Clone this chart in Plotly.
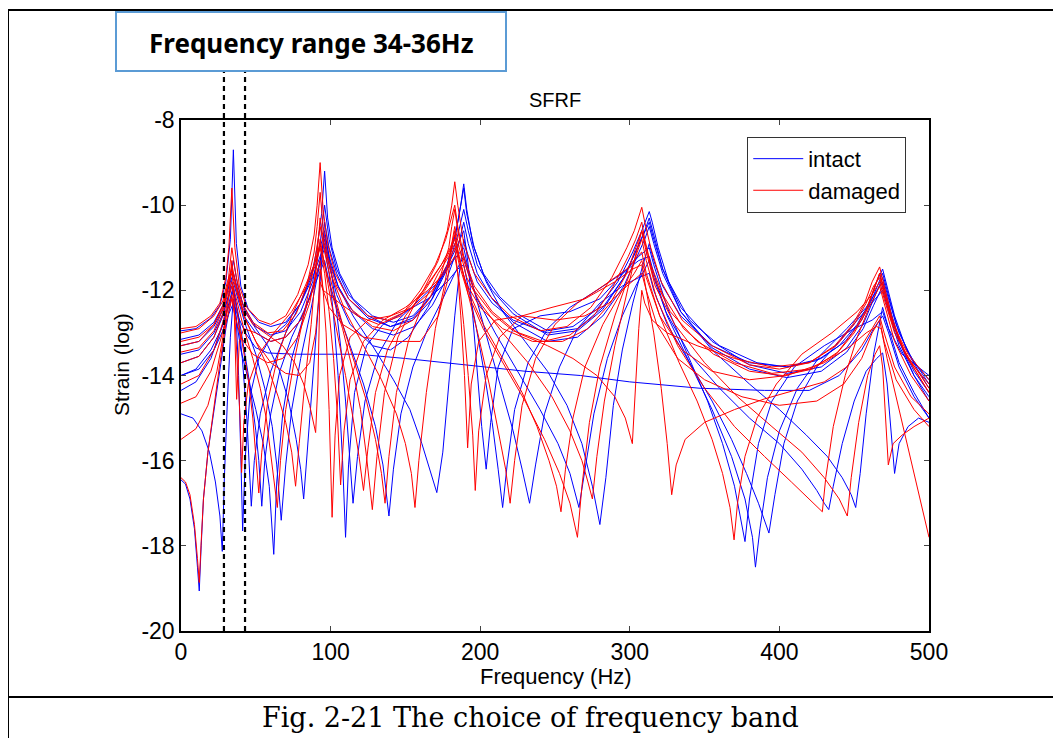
import plotly.graph_objects as go

# strain FRF curves, (frequency Hz, log strain)
intact_1 = [(0, -12.95), (10, -12.9), (20, -12.65), (26, -12.35), (30, -11.8), (33, -10.8), (35, -8.7), (37, -10.9),
            (40, -11.9), (45, -12.45), (52, -12.75), (60, -12.85), (70, -12.75), (80, -12.3), (87, -11.7), (91, -11.0),
            (94, -10.2), (96, -9.2), (98, -10.3), (101, -11.0), (106, -11.6), (115, -12.2), (128, -12.6), (142, -12.75),
            (155, -12.6), (168, -12.1), (178, -11.4), (184, -10.6), (187, -10.0), (189, -9.5), (191, -10.1), (195, -10.9),
            (202, -11.6), (213, -12.15), (225, -12.55), (245, -12.95), (262, -12.85), (278, -12.45), (292, -11.8),
            (302, -11.1), (308, -10.6), (311, -10.3), (313, -10.15), (315, -10.4), (319, -11.0), (326, -11.8),
            (340, -12.7), (360, -13.3), (385, -13.7), (405, -13.8), (425, -13.65), (440, -13.3), (452, -12.8),
            (460, -12.3), (465, -11.8), (469, -11.5), (472, -11.9), (477, -12.6), (485, -13.4), (500, -14.2)]
intact_2 = [(0, -13.15), (12, -13.05), (22, -12.75), (28, -12.35), (32, -11.9), (35, -11.6), (38, -12.0), (43, -12.5),
            (50, -12.9), (58, -13.3), (66, -13.9), (72, -14.6), (77, -15.5), (80, -16.2), (82, -16.9), (84, -16.0),
            (87, -14.6), (90, -13.2), (93, -11.9), (96, -10.4), (99, -11.0), (104, -11.6), (112, -12.2), (125, -12.65),
            (140, -12.85), (155, -12.65), (168, -12.1), (178, -11.4), (184, -10.6), (187, -10.0), (189, -9.6),
            (191, -10.2), (196, -11.0), (204, -11.8), (215, -12.5), (230, -13.2), (245, -13.9), (258, -14.7),
            (268, -15.6), (275, -16.6), (280, -17.5), (284, -16.4), (289, -14.7), (295, -13.4), (302, -12.3),
            (308, -11.5), (313, -10.9), (316, -11.3), (322, -11.9), (334, -12.6), (355, -13.3), (380, -13.7),
            (405, -13.8), (428, -13.6), (444, -13.2), (455, -12.7), (462, -12.2), (469, -11.6), (472, -12.0),
            (478, -12.8), (488, -13.6), (500, -14.3)]
intact_3 = [(0, -13.5), (12, -13.4), (22, -13.0), (28, -12.55), (32, -12.1), (35, -11.8), (38, -12.2), (43, -12.8),
            (50, -13.5), (56, -14.3), (61, -15.2), (64, -16.1), (67, -17.4), (70, -16.1), (74, -14.8), (80, -13.6),
            (86, -12.6), (91, -11.7), (96, -10.8), (99, -11.3), (105, -11.9), (115, -12.6), (128, -13.3), (142, -14.1),
            (153, -14.8), (161, -15.6), (167, -16.3), (171, -16.75), (175, -15.8), (179, -14.2), (183, -12.6),
            (186, -11.6), (189, -10.8), (192, -11.2), (198, -11.8), (208, -12.3), (222, -12.7), (245, -13.0),
            (265, -12.9), (282, -12.4), (296, -11.7), (305, -11.0), (310, -10.6), (313, -10.3), (316, -10.7),
            (322, -11.5), (334, -12.5), (355, -13.4), (380, -14.2), (400, -14.8), (418, -15.4), (432, -15.9),
            (442, -16.4), (448, -16.8), (451, -17.1), (454, -16.3), (458, -14.9), (463, -13.5), (469, -12.4),
            (473, -12.9), (480, -13.7), (490, -14.4), (500, -15.0)]
intact_4 = [(0, -14.0), (10, -13.85), (20, -13.4), (27, -12.9), (32, -12.35), (35, -12.0), (38, -12.5), (42, -13.3),
            (46, -14.2), (50, -15.3), (52, -16.0), (54, -17.07), (56, -16.0), (60, -14.9), (66, -13.9), (74, -13.1),
            (82, -12.5), (89, -11.9), (96, -11.3), (99, -11.8), (105, -12.5), (113, -13.3), (122, -14.2), (130, -15.2),
            (135, -16.1), (139, -17.3), (142, -16.2), (147, -14.9), (155, -13.8), (165, -12.9), (175, -12.2),
            (183, -11.6), (189, -11.2), (192, -11.6), (198, -12.2), (210, -13.0), (225, -13.9), (240, -14.8),
            (252, -15.6), (260, -16.3), (266, -17.1), (270, -16.2), (276, -14.9), (285, -13.6), (295, -12.6),
            (304, -11.9), (313, -11.3), (316, -11.7), (324, -12.5), (340, -13.5), (360, -14.3), (380, -15.0),
            (400, -15.6), (415, -16.2), (425, -16.7), (430, -17.0), (433, -17.15), (436, -16.6), (442, -15.6),
            (450, -14.6), (458, -13.9), (465, -13.6), (469, -13.47), (472, -14.2), (475, -15.4), (477, -16.3),
            (480, -15.6), (486, -15.2), (493, -15.0), (500, -15.1)]
intact_5 = [(0, -14.35), (10, -14.15), (20, -13.6), (27, -12.9), (32, -12.3), (35, -11.9), (38, -12.6), (41, -13.6),
            (44, -15.0), (46, -16.2), (47, -17.07), (49, -16.0), (53, -14.9), (60, -13.9), (70, -13.0), (80, -12.3),
            (88, -11.5), (93, -11.0), (96, -10.6), (99, -11.2), (103, -12.2), (107, -13.4), (110, -14.6), (113, -16.0),
            (115, -17.0), (118, -15.9), (123, -14.6), (132, -13.5), (145, -12.7), (160, -12.2), (172, -11.8),
            (182, -11.3), (189, -11.0), (192, -11.5), (198, -12.3), (206, -13.3), (214, -14.3), (222, -15.3),
            (228, -16.2), (233, -17.0), (237, -16.1), (243, -14.9), (253, -13.8), (265, -12.9), (280, -12.3),
            (295, -11.9), (306, -11.7), (313, -11.6), (316, -12.0), (325, -12.8), (340, -13.7), (355, -14.6),
            (368, -15.5), (378, -16.3), (386, -17.0), (393, -17.7), (397, -16.8), (403, -15.6), (412, -14.6),
            (425, -13.8), (440, -13.2), (452, -12.7), (462, -12.3), (469, -12.0), (473, -12.5), (480, -13.3),
            (490, -14.0), (500, -14.5)]
intact_6 = [(0, -14.9), (8, -15.0), (14, -15.3), (19, -15.8), (23, -16.5), (26, -17.3), (27.6, -18.13), (29, -16.4),
            (31, -14.6), (33, -13.1), (35, -12.2), (37, -12.7), (40, -13.4), (45, -14.1), (50, -14.8), (55, -15.6),
            (59, -16.6), (62, -18.2), (64, -16.5), (68, -14.9), (74, -13.6), (82, -12.6), (90, -11.7), (96, -11.0),
            (99, -11.6), (102, -12.6), (105, -14.0), (108, -16.0), (110, -17.8), (112, -16.1), (116, -14.4),
            (124, -13.3), (135, -12.8), (150, -12.5), (165, -12.2), (178, -11.8), (185, -11.5), (189, -11.4),
            (192, -11.9), (197, -12.8), (203, -14.0), (208, -15.1), (212, -16.2), (215, -17.1), (218, -16.1),
            (223, -14.8), (232, -13.7), (245, -12.9), (260, -12.4), (278, -12.0), (295, -11.6), (306, -11.3),
            (313, -11.2), (316, -11.6), (325, -12.6), (340, -13.7), (355, -14.8), (368, -15.9), (377, -16.9),
            (382, -17.8), (384, -18.5), (387, -17.6), (392, -16.4), (400, -15.3), (412, -14.3), (428, -13.5),
            (445, -12.9), (458, -12.4), (469, -11.8), (473, -12.3), (480, -13.2), (490, -14.0), (500, -14.6)]
intact_7 = [(0, -16.45), (3, -16.55), (6, -16.9), (9, -17.6), (11, -18.5), (12.2, -19.06), (13.5, -18.0), (15, -16.9),
            (18, -15.8), (22, -14.8), (26, -13.8), (30, -12.9), (33, -12.3), (35, -11.9), (37, -12.7), (38.5, -14.0),
            (40, -15.9), (41.2, -17.65), (43, -15.9), (46, -14.5), (52, -13.6), (60, -13.1), (70, -12.8), (80, -12.3),
            (88, -11.7), (93, -11.2), (96, -10.9), (99, -11.4), (104, -12.1), (113, -12.8), (128, -13.3), (140, -13.4),
            (152, -13.1), (165, -12.4), (176, -11.6), (184, -11.0), (189, -10.6), (192, -11.4), (195, -12.6),
            (198, -14.0), (201, -15.2), (204, -16.2), (207, -15.1), (212, -13.8), (222, -12.9), (240, -12.6),
            (260, -12.5), (280, -12.2), (296, -11.6), (306, -11.2), (313, -11.0), (316, -11.4), (325, -12.4),
            (340, -13.6), (352, -14.6), (362, -15.6), (370, -16.6), (377, -17.9), (380, -16.9), (386, -15.6),
            (395, -14.6), (410, -13.8), (430, -13.3), (450, -12.9), (462, -12.7), (469, -12.5), (473, -12.9),
            (482, -13.5), (500, -14.0)]
intact_8 = [(0, -14.0), (12, -13.85), (22, -13.4), (28, -12.95), (32, -12.55), (35, -12.3), (38, -12.6), (43, -13.0),
            (50, -13.35), (58, -13.47), (75, -13.5), (95, -13.5), (118, -13.5), (150, -13.6), (190, -13.75),
            (230, -13.9), (267, -14.0), (300, -14.15), (347, -14.3), (390, -14.35), (420, -14.35), (440, -14.0),
            (455, -13.4), (463, -12.9), (469, -12.6), (473, -13.0), (480, -13.8), (490, -14.5), (500, -15.0)]
intact_9 = [(0, -13.3), (12, -13.2), (22, -12.85), (28, -12.45), (32, -11.9), (35, -11.3), (38, -11.9), (42, -12.4),
            (50, -12.85), (60, -13.05), (70, -12.95), (80, -12.5), (88, -11.8), (93, -10.9), (96, -10.0), (99, -10.8),
            (104, -11.5), (112, -12.1), (125, -12.6), (140, -12.85), (155, -12.7), (168, -12.2), (178, -11.5),
            (185, -10.7), (189, -10.1), (192, -10.6), (198, -11.4), (208, -12.0), (222, -12.55), (245, -13.05),
            (265, -12.95), (282, -12.45), (296, -11.7), (305, -11.0), (310, -10.6), (313, -10.4), (316, -10.8),
            (322, -11.5), (334, -12.4), (355, -13.2), (380, -13.75), (405, -13.95), (428, -13.8), (445, -13.35),
            (456, -12.8), (463, -12.2), (469, -11.7), (473, -12.2), (480, -13.0), (490, -13.7), (500, -14.1)]
intact_10 = [(0, -13.7), (12, -13.55), (22, -13.1), (28, -12.6), (32, -12.1), (35, -11.6), (38, -12.1), (43, -12.65),
             (50, -13.0), (60, -13.2), (70, -13.1), (80, -12.7), (88, -12.0), (93, -11.3), (96, -10.7), (99, -11.2),
             (105, -11.9), (115, -12.5), (128, -12.9), (142, -13.05), (156, -12.85), (168, -12.35), (178, -11.7),
             (185, -11.0), (189, -10.4), (192, -10.9), (198, -11.6), (208, -12.2), (222, -12.75), (245, -13.2),
             (265, -13.1), (282, -12.6), (296, -11.9), (305, -11.2), (310, -10.8), (313, -10.5), (316, -10.9),
             (322, -11.6), (334, -12.5), (355, -13.35), (380, -13.85), (405, -14.05), (428, -13.9), (445, -13.45),
             (456, -12.9), (463, -12.35), (469, -11.9), (473, -12.4), (480, -13.2), (490, -13.9), (500, -14.4)]

damaged_1 = [(0, -12.9), (10, -12.85), (20, -12.6), (26, -12.3), (30, -11.7), (32, -11.0), (34, -9.6), (36, -11.0),
             (39, -11.9), (44, -12.4), (52, -12.7), (60, -12.8), (70, -12.6), (78, -12.1), (85, -11.4), (89, -10.7),
             (91, -10.0), (93, -9.0), (95, -10.1), (98, -10.9), (103, -11.6), (112, -12.2), (125, -12.6), (138, -12.7),
             (150, -12.5), (162, -12.0), (172, -11.3), (178, -10.6), (181, -10.0), (183, -9.45), (185, -10.0),
             (189, -10.9), (196, -11.6), (207, -12.15), (220, -12.6), (240, -12.95), (258, -12.85), (274, -12.4),
             (288, -11.7), (298, -11.0), (303, -10.6), (306, -10.3), (308, -10.05), (310, -10.4), (314, -11.0),
             (321, -11.8), (335, -12.7), (355, -13.3), (380, -13.75), (400, -13.85), (420, -13.7), (437, -13.3),
             (449, -12.8), (457, -12.3), (462, -11.8), (467, -11.45), (470, -11.9), (475, -12.6), (483, -13.4),
             (500, -14.3)]
damaged_2 = [(0, -13.0), (12, -12.9), (22, -12.6), (28, -12.25), (31, -11.8), (34, -11.5), (37, -11.9), (41, -12.4),
             (48, -12.8), (58, -13.05), (68, -13.3), (76, -13.7), (82, -14.2), (86, -14.7), (90, -15.34), (91.5, -14.2),
             (93, -11.8), (95, -12.0), (99, -12.1), (106, -12.3), (118, -12.6), (132, -12.8), (147, -12.6),
             (160, -12.0), (170, -11.4), (177, -10.8), (181, -10.3), (183, -10.0), (185, -10.5), (189, -11.2),
             (196, -11.9), (208, -12.5), (225, -13.0), (245, -13.3), (262, -13.6), (278, -14.0), (290, -14.5),
             (297, -15.0), (301.7, -15.6), (304, -14.2), (306, -12.9), (308, -12.0), (310, -12.3), (315, -12.7),
             (325, -13.0), (345, -13.3), (370, -13.6), (395, -13.8), (420, -13.7), (438, -13.3), (450, -12.8),
             (458, -12.3), (463, -11.9), (467, -11.7), (470, -12.1), (476, -12.8), (486, -13.5), (500, -14.1)]
damaged_3 = [(0, -13.2), (12, -13.1), (22, -12.8), (28, -12.35), (31, -11.9), (34, -11.6), (37, -12.0), (42, -12.6),
             (50, -13.2), (58, -13.8), (65, -14.5), (70, -15.1), (74, -15.8), (76.6, -16.6), (79, -15.6), (83, -14.1),
             (87, -12.8), (90, -11.6), (93, -10.3), (96, -11.0), (101, -11.7), (110, -12.5), (122, -13.3), (134, -14.1),
             (144, -14.9), (150, -15.6), (154, -16.3), (156.4, -17.1), (159, -16.0), (164, -14.4), (170, -12.9),
             (176, -11.9), (180, -11.1), (183, -10.5), (186, -11.0), (191, -11.7), (200, -12.3), (215, -13.0),
             (232, -13.7), (248, -14.5), (260, -15.3), (268, -16.0), (272, -16.5), (275, -16.9), (278, -15.9),
             (283, -14.6), (290, -13.3), (297, -12.2), (303, -11.3), (308, -10.6), (311, -11.1), (317, -11.9),
             (330, -12.8), (350, -13.7), (372, -14.5), (395, -15.2), (415, -15.8), (430, -16.4), (440, -16.9),
             (445.4, -17.3), (448, -16.4), (453, -15.1), (459, -14.0), (464, -13.5), (467, -13.3), (469, -13.8),
             (471, -15.0), (472.8, -16.1), (476, -15.6), (482, -15.4), (490, -15.2), (500, -15.0)]
damaged_4 = [(0, -13.7), (12, -13.55), (22, -13.1), (28, -12.55), (31, -12.1), (34, -11.8), (37, -12.2), (42, -12.9),
             (48, -13.6), (53, -14.3), (57, -15.0), (60, -15.8), (62, -16.4), (64.4, -17.1), (66.5, -16.0), (70, -14.8),
             (76, -13.6), (82, -12.6), (88, -11.6), (93, -10.5), (96, -11.1), (101, -11.9), (108, -12.8), (116, -13.7),
             (124, -14.6), (130, -15.5), (134, -16.3), (136.4, -17.0), (139, -15.9), (144, -14.4), (152, -13.2),
             (162, -12.3), (172, -11.6), (179, -11.2), (183, -10.9), (186, -11.4), (192, -12.1), (202, -12.9),
             (215, -13.7), (230, -14.6), (243, -15.5), (253, -16.3), (260, -17.0), (265, -17.8), (268, -16.6),
             (273, -15.1), (280, -13.8), (290, -12.6), (300, -11.6), (305, -11.1), (308, -10.8), (311, -11.3),
             (318, -12.2), (332, -13.3), (350, -14.3), (370, -15.2), (390, -15.9), (408, -16.5), (420, -16.9),
             (428.7, -17.2), (431, -16.4), (436, -15.2), (444, -14.0), (452, -13.1), (460, -12.4), (467, -11.9),
             (470, -12.3), (477, -13.2), (488, -14.0), (500, -14.6)]
damaged_5 = [(0, -14.2), (12, -14.0), (22, -13.4), (28, -12.75), (31, -12.3), (34, -11.9), (37, -12.4), (41, -13.2),
             (45, -14.1), (48, -15.0), (50, -15.8), (52, -16.76), (54, -15.8), (58, -14.6), (65, -13.5), (74, -12.6),
             (83, -11.9), (89, -11.4), (93, -10.9), (96, -11.4), (100, -12.2), (105, -13.1), (110, -14.0),
             (115, -15.0), (119, -15.9), (122, -16.7), (125, -15.7), (130, -14.4), (138, -13.4), (150, -12.6),
             (163, -12.0), (174, -11.4), (180, -11.0), (183, -10.7), (186, -11.2), (192, -12.1), (199, -13.1),
             (206, -14.2), (212, -15.3), (217, -16.2), (220, -17.0), (223, -16.0), (228, -14.7), (237, -13.6),
             (250, -12.8), (265, -12.3), (282, -11.9), (298, -11.5), (305, -11.2), (308, -11.1), (311, -11.6),
             (320, -12.6), (333, -13.7), (345, -14.6), (355, -15.5), (362, -16.3), (367, -17.1), (369.7, -17.86),
             (372, -17.0), (377, -15.9), (385, -15.0), (398, -14.2), (415, -13.5), (435, -13.0), (452, -12.5),
             (462, -12.1), (467, -11.8), (470, -12.2), (477, -13.0), (488, -13.7), (500, -14.2)]
damaged_6 = [(0, -14.65), (10, -14.5), (20, -13.9), (27, -13.1), (31, -12.5), (34, -12.1), (36, -12.6), (38, -13.8),
             (39.5, -15.0), (40.5, -16.28), (42, -15.1), (45, -14.2), (52, -13.5), (62, -13.0), (74, -12.5),
             (84, -11.9), (90, -11.4), (93, -11.0), (96, -11.6), (99, -12.5), (102, -13.6), (104.5, -14.9),
             (106.7, -16.57), (109, -15.3), (113, -14.1), (122, -13.2), (135, -12.7), (150, -12.4), (165, -12.0),
             (176, -11.6), (183, -11.2), (186, -11.8), (189, -12.8), (192, -14.0), (195, -15.4), (196.7, -16.7),
             (199, -15.3), (204, -14.0), (213, -13.1), (228, -12.6), (248, -12.4), (270, -12.2), (290, -11.8),
             (302, -11.5), (308, -11.4), (311, -12.0), (316, -13.0), (321, -14.3), (325, -15.6), (328, -16.8),
             (331, -16.1), (337, -15.5), (350, -15.1), (370, -14.8), (390, -14.55), (410, -14.35), (430, -14.15),
             (445, -13.8), (455, -13.3), (462, -12.9), (467, -12.6), (470, -13.0), (477, -13.8), (488, -14.5),
             (500, -14.9)]
damaged_7 = [(0, -15.5), (10, -15.25), (18, -14.7), (24, -13.9), (29, -12.9), (32, -12.1), (34, -11.3), (35.5, -12.4),
             (37.2, -14.56), (39, -13.2), (42, -12.9), (50, -13.0), (60, -13.2), (70, -13.1), (80, -12.7), (87, -12.1),
             (91, -11.6), (93, -11.3), (95, -12.0), (97, -13.0), (99, -14.8), (101, -17.33), (103, -15.4),
             (106, -14.0), (113, -13.1), (125, -12.7), (140, -12.6), (155, -12.4), (168, -12.0), (178, -11.4),
             (183, -11.0), (185, -11.6), (187, -12.6), (189.5, -14.0), (191.6, -15.7), (194, -14.2), (199, -13.2),
             (210, -12.7), (228, -12.6), (250, -12.7), (270, -12.6), (286, -12.3), (298, -11.9), (305, -11.7),
             (308, -11.6), (311, -12.0), (318, -12.8), (332, -13.6), (350, -14.1), (375, -14.5), (400, -14.7),
             (425, -14.6), (443, -14.2), (455, -13.6), (462, -13.0), (467, -12.7), (470, -13.2), (478, -14.1),
             (490, -14.8), (500, -15.2)]
damaged_8 = [(0, -16.4), (3, -16.5), (6, -16.8), (9, -17.5), (11, -18.3), (12.2, -18.86), (13.5, -17.9), (15, -16.9),
             (18, -15.8), (22, -14.7), (26, -13.7), (30, -12.8), (32, -12.5), (34, -12.2), (36, -12.6), (40, -13.1),
             (48, -13.5), (58, -13.7), (68, -13.6), (78, -13.1), (86, -12.3), (90, -11.6), (93, -10.8), (96, -11.4),
             (101, -12.1), (108, -12.9), (115, -13.9), (120, -14.8), (124, -15.9), (127.9, -17.15), (131, -15.9),
             (136, -14.4), (145, -13.1), (158, -12.2), (170, -11.6), (178, -11.2), (183, -10.8), (186, -11.3),
             (192, -12.0), (202, -12.8), (215, -13.6), (228, -14.4), (238, -15.2), (246, -16.0), (251, -16.6),
             (254, -17.2), (257, -16.2), (262, -15.0), (270, -13.8), (282, -12.8), (295, -12.0), (303, -11.6),
             (308, -11.3), (311, -11.7), (320, -12.6), (335, -13.4), (355, -13.9), (380, -14.1), (405, -14.0),
             (430, -13.7), (448, -13.3), (458, -13.0), (465, -12.85), (468, -12.9), (472, -13.6), (478, -14.5),
             (485, -15.5), (492, -16.6), (500, -17.8)]
damaged_9 = [(0, -13.45), (12, -13.35), (22, -12.95), (28, -12.45), (31, -12.0), (34, -11.4), (37, -11.9), (42, -12.6),
             (50, -13.2), (60, -13.7), (70, -13.95), (79, -14.0), (86, -13.7), (90, -13.0), (92, -12.2), (93, -11.5),
             (95, -12.0), (99, -12.4), (108, -12.8), (122, -13.1), (140, -13.2), (160, -13.2), (172, -12.6),
             (178, -11.8), (181, -11.0), (183, -10.6), (185, -11.1), (190, -11.8), (200, -12.4), (215, -12.9),
             (235, -13.2), (255, -13.2), (272, -12.9), (287, -12.3), (298, -11.6), (304, -11.0), (308, -10.6),
             (311, -11.0), (316, -11.7), (327, -12.5), (345, -13.2), (370, -13.7), (395, -13.95), (420, -13.85),
             (438, -13.5), (450, -13.0), (458, -12.5), (463, -12.0), (467, -11.6), (470, -12.0), (476, -12.8),
             (486, -13.6), (500, -14.4)]
damaged_10 = [(0, -13.3), (12, -13.2), (22, -12.8), (28, -12.4), (31, -11.95), (34, -11.0), (37, -11.7), (41, -12.3),
              (48, -12.75), (58, -13.0), (68, -12.95), (77, -12.55), (84, -11.9), (89, -11.1), (91, -10.5), (93, -9.7),
              (95, -10.5), (98, -11.2), (104, -11.9), (114, -12.45), (128, -12.85), (142, -12.95), (155, -12.7),
              (166, -12.2), (174, -11.6), (179, -11.0), (181, -10.5), (183, -10.1), (185, -10.6), (189, -11.3),
              (196, -12.0), (208, -12.55), (222, -12.95), (242, -13.2), (260, -13.05), (276, -12.6), (289, -11.9),
              (299, -11.2), (304, -10.8), (306, -10.6), (308, -10.4), (310, -10.8), (314, -11.4), (322, -12.1),
              (336, -12.9), (356, -13.5), (380, -13.9), (402, -14.0), (422, -13.85), (439, -13.45), (450, -12.95),
              (458, -12.45), (463, -12.0), (467, -11.6), (470, -12.0), (475, -12.7), (484, -13.5), (500, -14.4)]

intact_curves = [intact_1, intact_2, intact_3, intact_4, intact_5, intact_6, intact_7, intact_8, intact_9, intact_10]
damaged_curves = [damaged_1, damaged_2, damaged_3, damaged_4, damaged_5, damaged_6, damaged_7, damaged_8, damaged_9,
                  damaged_10]

band_hz = [28.7, 42.8]  # dashed band edges
x_ticks = [0, 100, 200, 300, 400, 500]
y_ticks = [-20, -18, -16, -14, -12, -10, -8]


fig = go.Figure()

for name, color, curves in [("intact", "#0000ff", intact_curves), ("damaged", "#ff0000", damaged_curves)]:
    for i, pts in enumerate(curves):
        f = [p[0] for p in pts]
        s = [p[1] for p in pts]
        fig.add_trace(go.Scatter(x=f, y=s, mode="lines", name=name, legendgroup=name,
                                 showlegend=(i == 0), line=dict(color=color, width=1)))


# page pixels -> paper coords (plot box sits at px 181..929 x 120..631 on the page)
def px_x(px):
    return (px - 181) / 748.0


def px_y(py):
    return (631 - py) / 511.0


shapes = []
for b in band_hz:
    shapes.append(dict(type="line", xref="x", yref="paper", x0=b, x1=b, y0=0, y1=px_y(71),
                       line=dict(color="black", width=2.2, dash="5px,4px")))
# outer frame + caption divider
shapes.append(dict(type="rect", xref="paper", yref="paper", x0=px_x(8), x1=px_x(1065), y0=px_y(745), y1=px_y(10),
                   line=dict(color="black", width=2)))
shapes.append(dict(type="line", xref="paper", yref="paper", x0=px_x(8), x1=px_x(1065), y0=px_y(697), y1=px_y(697),
                   line=dict(color="black", width=2)))
# text box at top
shapes.append(dict(type="rect", xref="paper", yref="paper", x0=px_x(116), x1=px_x(506), y0=px_y(71), y1=px_y(12),
                   line=dict(color="#5b9bd5", width=2), fillcolor="white"))

annotations = [
    dict(text="Frequency range 34-36Hz", xref="paper", yref="paper", x=px_x(311), y=px_y(43), showarrow=False,
         xanchor="center", yanchor="middle",
         font=dict(family="Noto Sans", size=26, color="black", weight="bold")),
    dict(text="SFRF", xref="paper", yref="paper", x=0.5, y=px_y(100), showarrow=False,
         xanchor="center", yanchor="middle", font=dict(family="Liberation Sans", size=20, color="black")),
    dict(text="Frequency (Hz)", xref="paper", yref="paper", x=px_x(556), y=px_y(676), showarrow=False,
         xanchor="center", yanchor="middle", font=dict(family="Liberation Sans", size=22, color="black")),
    dict(text="Strain (log)", xref="paper", yref="paper", x=px_x(121), y=px_y(365), showarrow=False,
         textangle=-90, xanchor="center", yanchor="middle",
         font=dict(family="Liberation Sans", size=21, color="black")),
    dict(text="Fig. 2-21 The choice of frequency band", xref="paper", yref="paper", x=px_x(530), y=px_y(717),
         showarrow=False, xanchor="center", yanchor="middle",
         font=dict(family="DejaVu Serif", size=27, color="black")),
]

fig.update_layout(
    width=1061, height=738,
    # the page adds an 8px body margin, so the plot box is shifted back by that much
    margin=dict(l=173, r=140, t=112, b=115),
    paper_bgcolor="white", plot_bgcolor="white",
    font=dict(family="Liberation Sans", size=22, color="black"),
    shapes=shapes, annotations=annotations,
    legend=dict(x=0.757, y=0.967, xanchor="left", yanchor="top", bgcolor="white",
                bordercolor="#333333", borderwidth=1, font=dict(size=22), tracegroupgap=0,
                itemwidth=50),
    showlegend=True,
)
fig.update_xaxes(range=[0, 500], tickvals=x_ticks, ticktext=[str(v) for v in x_ticks], ticks="inside", ticklen=5,
                 tickfont=dict(size=23), showline=True, linecolor="black", linewidth=1.5, mirror="ticks",
                 showgrid=False, zeroline=False)
fig.update_yaxes(range=[-20, -8], tickvals=y_ticks, ticktext=[str(v) for v in y_ticks], ticks="inside", ticklen=5,
                 tickfont=dict(size=23), showline=True, linecolor="black", linewidth=1.5, mirror="ticks",
                 showgrid=False, zeroline=False)

fig.write_html("out.html")
